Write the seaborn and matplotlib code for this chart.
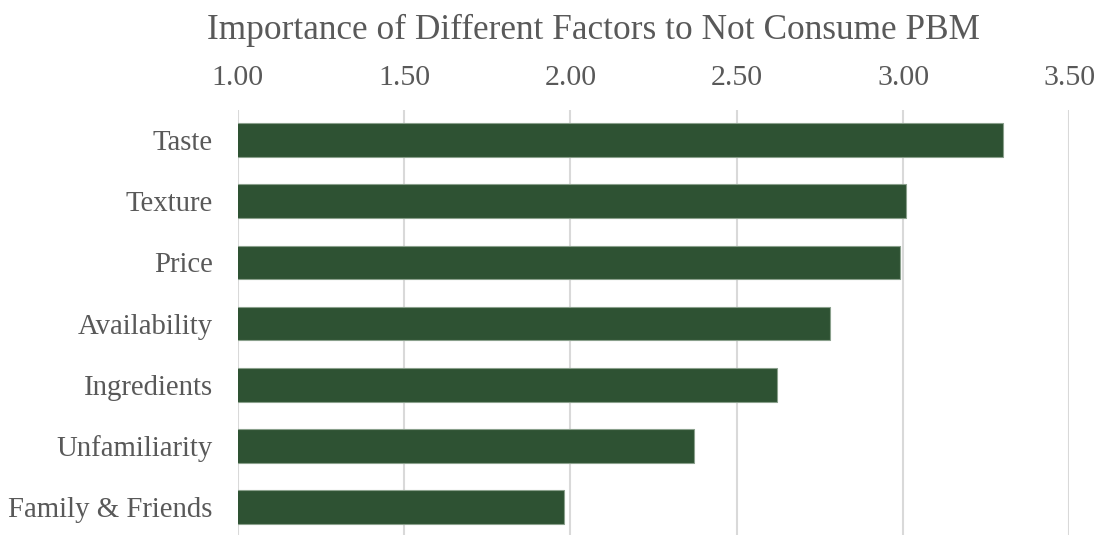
import matplotlib
matplotlib.use("Agg")
import matplotlib.pyplot as plt
import seaborn as sns
import pandas as pd

factors = ["Taste", "Texture", "Price", "Availability", "Ingredients",
           "Unfamiliarity", "Family & Friends"]
scores = [3.30, 3.01, 2.99, 2.78, 2.62, 2.37, 1.98]
x_ticks = [1.00, 1.50, 2.00, 2.50, 3.00, 3.50]
x_tick_labels = ["1.00", "1.50", "2.00", "2.50", "3.00", "3.50"]

sns.set_theme(style="white")
plt.rcParams["font.family"] = ["Liberation Serif", "DejaVu Serif"]

df = pd.DataFrame({"factor": factors, "score": scores})

fig = plt.figure(figsize=(10.94, 5.35), dpi=100)
ax = fig.add_axes([0.2173, -0.005, 0.7603, 0.8003])

sns.barplot(data=df, x="score", y="factor", orient="h", color="#2e5233",
            saturation=1, width=0.55, edgecolor="#8aa08c", linewidth=0.8,
            ax=ax, zorder=3)

ax.set_xlim(1.0, 3.5)
ax.set_ylim(6.5, -0.5)
ax.set_xticks(x_ticks)
ax.set_xticklabels(x_tick_labels)
ax.xaxis.tick_top()
ax.tick_params(axis="x", length=0, pad=13, labelsize=21.5, colors="#595959")
ax.tick_params(axis="y", length=0, pad=18, labelsize=20.7, colors="#595959")
ax.grid(axis="x", color="#d9d9d9", linewidth=1.5, zorder=0)
ax.set_axisbelow(True)
for s in ax.spines.values():
    s.set_visible(False)
ax.set_xlabel("")
ax.set_ylabel("")

fig.text(0.5425, 1 - 39 / 535, "Importance of Different Factors to Not Consume PBM",
         ha="center", va="baseline", fontsize=25.4, color="#595959")

fig.savefig("out.png", dpi=100)
